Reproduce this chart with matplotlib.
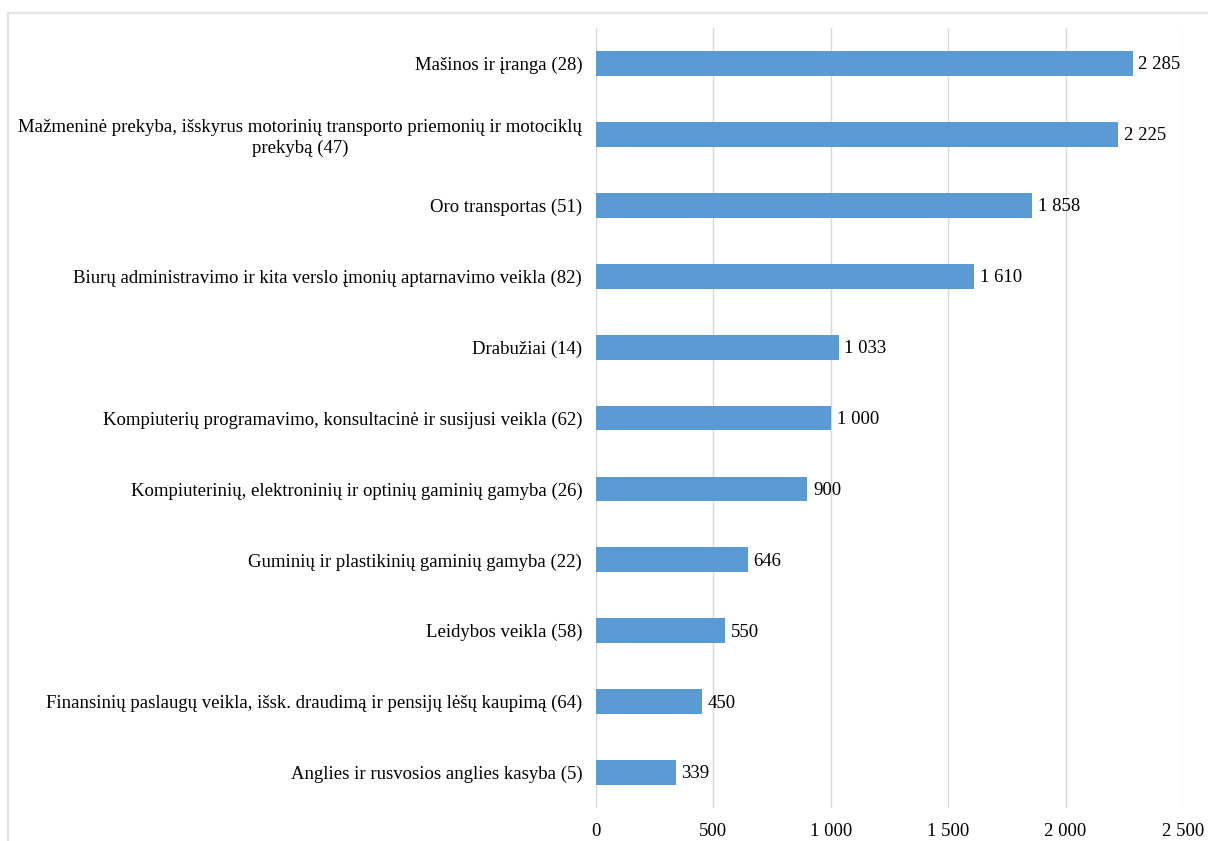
import matplotlib.pyplot as plt
from matplotlib.lines import Line2D

categories = [
    "Mašinos ir įranga (28)",
    "Mažmeninė prekyba, išskyrus motorinių transporto priemonių ir motociklų\nprekybą (47)",
    "Oro transportas (51)",
    "Biurų administravimo ir kita verslo įmonių aptarnavimo veikla (82)",
    "Drabužiai (14)",
    "Kompiuterių programavimo, konsultacinė ir susijusi veikla (62)",
    "Kompiuterinių, elektroninių ir optinių gaminių gamyba (26)",
    "Guminių ir plastikinių gaminių gamyba (22)",
    "Leidybos veikla (58)",
    "Finansinių paslaugų veikla, išsk. draudimą ir pensijų lėšų kaupimą (64)",
    "Anglies ir rusvosios anglies kasyba (5)",
]
values = [2285, 2225, 1858, 1610, 1033, 1000, 900, 646, 550, 450, 339]
xticks = [0, 500, 1000, 1500, 2000, 2500]


def fmt(v):
    return f"{v:,}".replace(",", " ")


plt.rcParams["font.family"] = ["Liberation Serif", "DejaVu Serif"]
FS = 13.5

fig = plt.figure(figsize=(12.08, 8.41), dpi=100)
ax = fig.add_axes([0.4934, 0.0392, 0.4859, 0.9275])

ypos = list(range(len(categories)))
ax.barh(ypos, values, height=0.35, color="#5b9bd5", zorder=3)
ax.set_ylim(len(categories) - 0.5, -0.5)
ax.set_xlim(0, 2500)

for y, v in zip(ypos, values):
    ax.text(v + 25, y + 0.02, fmt(v), va="center", ha="left", fontsize=FS, color="black")

ax.set_yticks(ypos)
ax.set_yticklabels(categories, fontsize=FS)
for lab in ax.get_yticklabels():
    lab.set_multialignment("center")
    lab.set_linespacing(1.25)
ax.set_xticks(xticks)
ax.set_xticklabels([fmt(t) for t in xticks], fontsize=FS)
ax.tick_params(axis="y", length=0, pad=10)
ax.tick_params(axis="x", length=0, pad=11)

ax.grid(axis="x", color="#d9d9d9", linewidth=1, zorder=0)
for s in ax.spines.values():
    s.set_visible(False)

# light chart border (top and left edges visible)
fig.add_artist(Line2D([8 / 1208, 1], [1 - 13 / 841] * 2, color="#e3e3e3", lw=1.5,
                      transform=fig.transFigure))
fig.add_artist(Line2D([8 / 1208] * 2, [0, 1 - 13 / 841], color="#e3e3e3", lw=1.5,
                      transform=fig.transFigure))

fig.savefig("out.png", dpi=100)
